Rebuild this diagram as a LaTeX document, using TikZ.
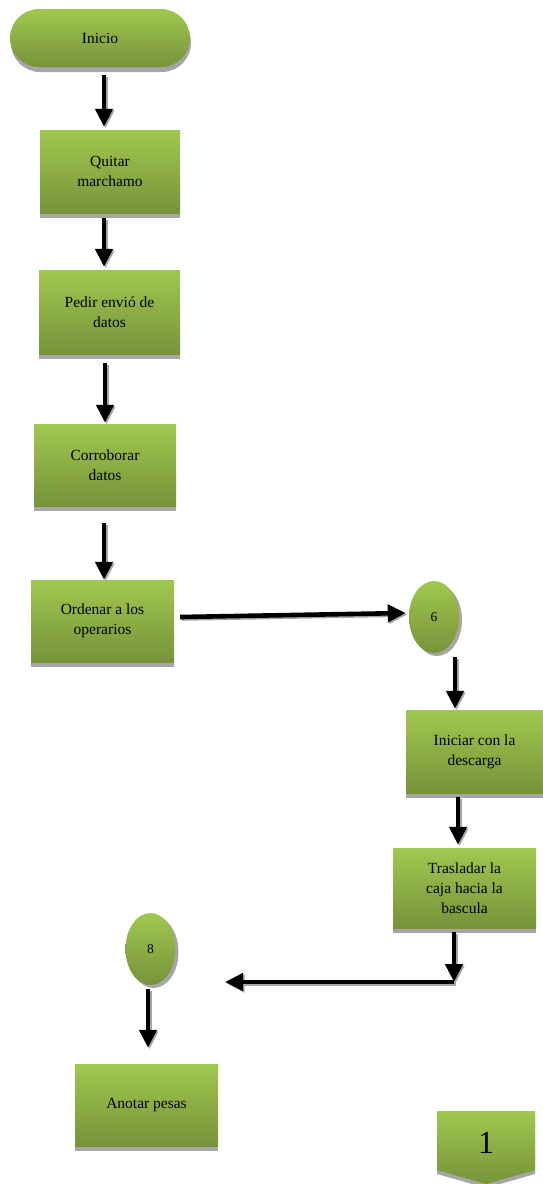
\documentclass[tikz,border=0pt]{standalone}
\usepackage{fontspec}
\setmainfont{Liberation Serif}
\usetikzlibrary{arrows.meta,shadows,shapes.geometric}
\definecolor{gtop}{HTML}{A0C84E}
\definecolor{gbot}{HTML}{76933A}
\definecolor{shd}{HTML}{A6A6A6}
\tikzset{
  stepbox/.style={rectangle, minimum width=#1, top color=gtop, bottom color=gbot, draw=none,
    align=center, inner sep=2pt, font=\fontsize{15.5}{20}\selectfont,
    drop shadow={shadow xshift=0pt, shadow yshift=-5pt, opacity=1, fill=shd}},
  term/.style={rectangle, rounded corners=29pt, minimum width=180pt, minimum height=58pt,
    top color=gtop, bottom color=gbot, draw=none, font=\fontsize{15.5}{20}\selectfont,
    drop shadow={shadow xshift=1pt, shadow yshift=-5pt, opacity=1, fill=shd}},
  conn/.style={ellipse, minimum width=50pt, minimum height=72pt, inner sep=0pt,
    top color=gtop, bottom color=gbot, draw=none, font=\fontsize{13.5}{15}\selectfont,
    drop shadow={shadow xshift=3pt, shadow yshift=-3pt, opacity=1, fill=shd}},
  arr/.style={line width=4.6pt, black, -{Triangle[width=17pt,length=18pt]},
    preaction={draw=shd, line width=4.6pt, -{Triangle[width=17pt,length=18pt]},
      transform canvas={xshift=1.5pt,yshift=-1.5pt}}}
}
\begin{document}
\begin{tikzpicture}[x=1pt,y=-1pt]
\useasboundingbox (0,0) rectangle (543,1184);

\node[term] (inicio) at (100,38) {Inicio};
\node[stepbox=140pt, minimum height=83pt] (q1) at (110,171.5) {Quitar\\marchamo};
\node[stepbox=141pt, minimum height=84pt] (q2) at (109.5,312) {Pedir envió de\\datos};
\node[stepbox=142pt, minimum height=82pt] (q3) at (105,465) {Corroborar\\datos};
\node[stepbox=143pt, minimum height=82pt] (q4) at (102.5,621) {Ordenar a los\\operarios};
\node[conn] (c6) at (434,617) {6};
\node[stepbox=137pt, minimum height=83pt] (q5) at (474.5,751.5) {Iniciar con la\\descarga};
\node[stepbox=143pt, minimum height=80pt] (q6) at (464.5,888) {Trasladar la\\caja hacia la\\bascula};
\node[conn] (c8) at (150.5,949) {8};
\node[stepbox=143pt, minimum height=82pt] (q7) at (146.5,1105) {Anotar pesas};

% off-page connector
\fill[shd] (437,1115) -- (535,1115) -- (535,1174) -- (486,1188) -- (437,1174) -- cycle;
\shade[top color=gtop, bottom color=gbot] (437,1111) -- (535,1111) -- (535,1170) -- (486,1184) -- (437,1170) -- cycle;
\node[font=\fontsize{32}{36}\selectfont, inner sep=0pt] (pg) at (486,1143) {1};

\coordinate (turn) at (454,982);
\coordinate (leftend) at (225,982);

\draw[arr] ([xshift=4pt,yshift=-8pt]inicio.south) -- ([xshift=-6pt,yshift=3pt]q1.north);
\draw[arr] ([xshift=-6pt,yshift=-5pt]q1.south) -- ([xshift=-5.5pt,yshift=3pt]q2.north);
\draw[arr] ([xshift=-4.5pt,yshift=-9pt]q2.south) -- ([yshift=1pt]q3.north);
\draw[arr] ([xshift=-1pt,yshift=-17pt]q3.south) -- ([xshift=1.5pt]q4.north);
\draw[arr] ([xshift=6pt,yshift=4pt]q4.east) -- ([xshift=-3pt,yshift=4pt]c6.west);
\draw[arr] ([xshift=21pt,yshift=-4pt]c6.south) -- ([xshift=-19.5pt,yshift=1pt]q5.north);
\draw[arr] ([xshift=-16.5pt,yshift=-4pt]q5.south) -- ([xshift=-6.5pt,yshift=3pt]q6.north);
\draw[arr] ([xshift=-10.5pt,yshift=-4pt]q6.south) -- (turn);
\draw[arr] (turn) -- (leftend);
\draw[arr] ([xshift=-2.5pt,yshift=-4pt]c8.south) -- ([xshift=1.5pt,yshift=16pt]q7.north);
\end{tikzpicture}
\end{document}
